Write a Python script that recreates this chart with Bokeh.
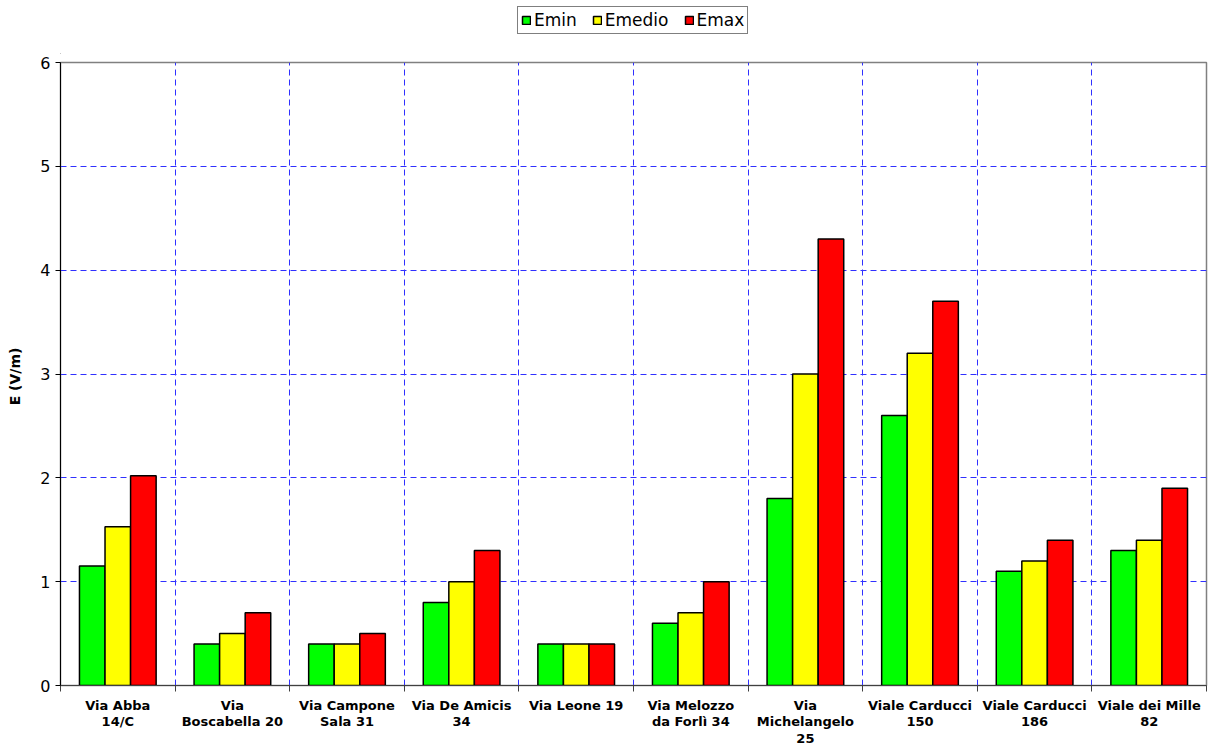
from bokeh.plotting import figure
from bokeh.layouts import column
from bokeh.models import FixedTicker, Legend, LegendItem, Range1d, ColumnDataSource
from bokeh.embed import file_html
from bokeh.resources import INLINE

categories = ["Via Abba\n14/C", "Via\nBoscabella 20", "Via Campone\nSala 31", "Via De Amicis\n34",
              "Via Leone 19", "Via Melozzo\nda Forlì 34", "Via\nMichelangelo\n25", "Viale Carducci\n150",
              "Viale Carducci\n186", "Viale dei Mille\n82"]
emin = [1.15, 0.4, 0.4, 0.8, 0.4, 0.6, 1.8, 2.6, 1.1, 1.3]
emedio = [1.53, 0.5, 0.4, 1.0, 0.4, 0.7, 3.0, 3.2, 1.2, 1.4]
emax = [2.02, 0.7, 0.5, 1.3, 0.4, 1.0, 4.3, 3.7, 1.4, 1.9]
series_names = ["Emin", "Emedio", "Emax"]
series_colors = ["#00ff00", "#ffff00", "#ff0000"]
y_ticks = [0, 1, 2, 3, 4, 5, 6]

FONT = "DejaVu Sans"
n = len(categories)
centers = [i + 0.5 for i in range(n)]

# ---- legend strip (top) ----
lg = figure(width=1208, height=54, output_backend="svg", toolbar_location=None,
            x_range=Range1d(0, 1), y_range=Range1d(0, 1), x_axis_type=None, y_axis_type=None,
            min_border=0)
lg.outline_line_color = None
lg.grid.visible = False
leg_renderers = []
for col in series_colors:
    # proxy glyph placed outside the visible range; only its legend swatch shows
    r = lg.vbar(x=[-10], top=[-10], bottom=[-11], width=0.1, fill_color=col,
                line_color="black", line_width=1.5)
    leg_renderers.append(r)
legend = Legend(items=[LegendItem(label=nm, renderers=[r]) for nm, r in zip(series_names, leg_renderers)],
                orientation="horizontal", location=(457, 20))
legend.border_line_color = "black"
legend.border_line_width = 1
legend.label_text_font = FONT
legend.label_text_font_size = "17px"
legend.label_text_color = "black"
legend.glyph_width = 10
legend.glyph_height = 10
legend.spacing = 15
legend.label_standoff = 3
legend.padding = 3
legend.margin = 0
legend.label_height = 14
lg.add_layout(legend, "center")

# ---- main chart ----
p = figure(frame_width=1146, frame_height=623, output_backend="svg", toolbar_location=None,
           x_range=Range1d(0, n), y_range=Range1d(0, 6),
           min_border_left=60, min_border_right=2, min_border_top=8, min_border_bottom=10)

bw = 0.223
for k, (vals, col) in enumerate(zip([emin, emedio, emax], series_colors)):
    src = ColumnDataSource(dict(x=[c + (k - 1) * bw for c in centers], top=vals))
    p.vbar(x="x", top="top", width=bw, bottom=0, source=src, fill_color=col,
           line_color="black", line_width=1.5)

# x axis
p.xaxis.ticker = FixedTicker(ticks=centers, minor_ticks=list(range(n + 1)))
p.xaxis.major_label_overrides = {c: lab for c, lab in zip(centers, categories)}
p.xaxis.major_tick_line_color = None
p.xaxis.major_tick_out = 0
p.xaxis.major_tick_in = 0
p.xaxis.minor_tick_out = 6
p.xaxis.minor_tick_in = 0
p.xaxis.minor_tick_line_color = "#404040"
p.xaxis.axis_line_color = "#404040"
p.xaxis.major_label_text_font = FONT
p.xaxis.major_label_text_font_style = "bold"
p.xaxis.major_label_text_font_size = "13px"
p.xaxis.major_label_text_line_height = 1.1
p.xaxis.major_label_text_color = "black"
p.xaxis.major_label_standoff = 6

# y axis
p.yaxis.ticker = FixedTicker(ticks=y_ticks)
p.yaxis.minor_tick_line_color = None
p.yaxis.major_tick_out = 5
p.yaxis.major_tick_in = 0
p.yaxis.axis_line_color = "black"
p.yaxis.major_label_text_font = FONT
p.yaxis.major_label_text_font_size = "16px"
p.yaxis.major_label_text_color = "black"
p.yaxis.axis_label = "E  (V/m)"
p.yaxis.axis_label_text_font = FONT
p.yaxis.axis_label_text_font_style = "bold"
p.yaxis.axis_label_text_font_size = "14px"
p.yaxis.axis_label_text_color = "black"
p.yaxis.axis_label_standoff = 14

# grids
p.xgrid.ticker = FixedTicker(ticks=list(range(1, n)))
for g in (p.xgrid, p.ygrid):
    g.grid_line_color = "#3030ff"
    g.grid_line_dash = "6 4"
    g.grid_line_width = 1
p.ygrid.ticker = FixedTicker(ticks=y_ticks[1:-1])

p.outline_line_color = "#808080"
p.outline_line_width = 1.5

layout = column(lg, p, spacing=0)
open("out.html", "w").write(file_html(layout, INLINE))
